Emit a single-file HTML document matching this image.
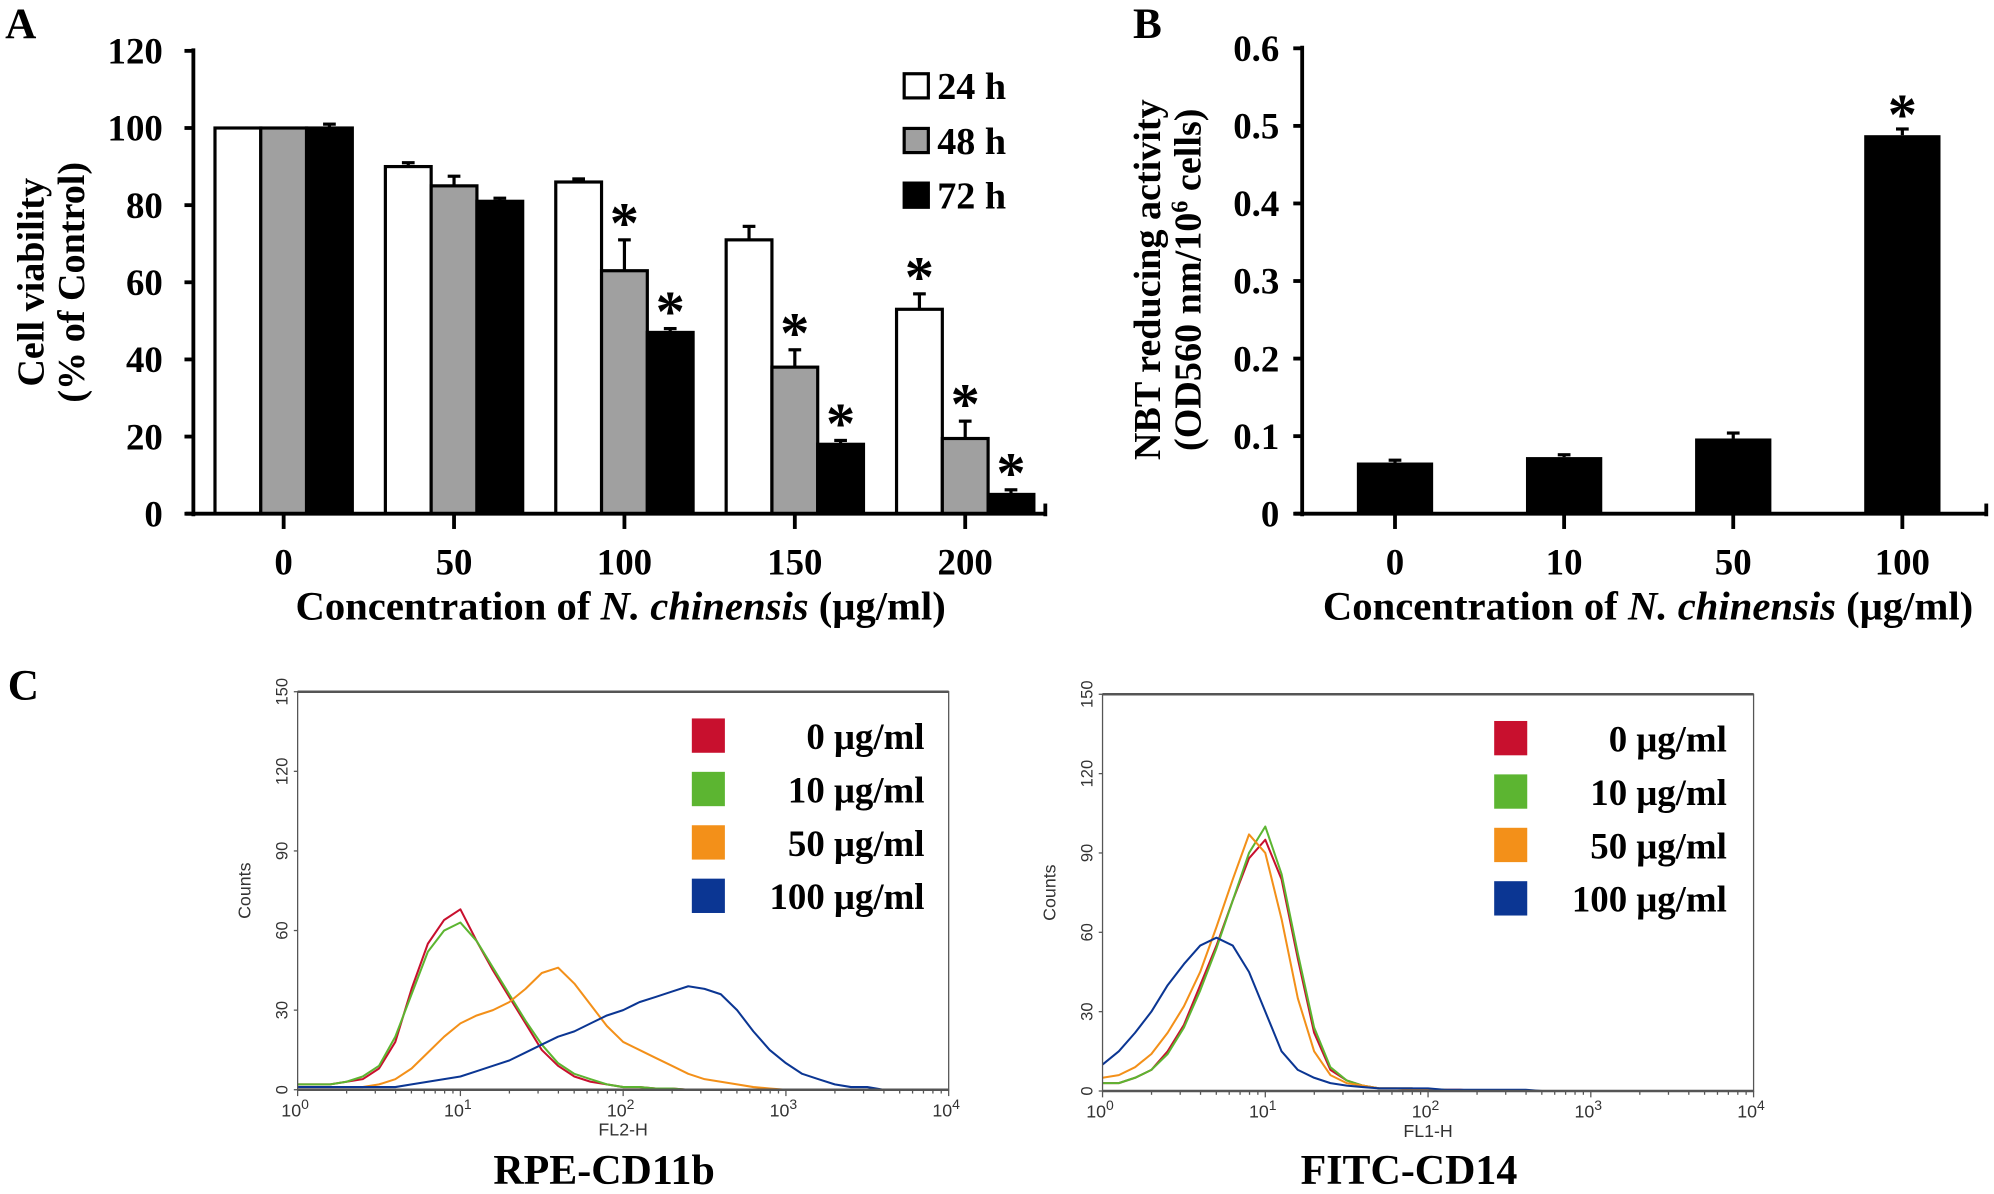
<!DOCTYPE html>
<html><head><meta charset="utf-8"><style>
html,body{margin:0;padding:0;background:#fff}
svg{display:block}
text{font-family:"Liberation Serif",serif;font-weight:bold;fill:#000}
.sm{font-family:"Liberation Sans",sans-serif;font-weight:normal;fill:#333}
</style></head><body>
<svg id="fig" xmlns="http://www.w3.org/2000/svg" width="1994" height="1194" viewBox="0 0 1568 939">
</svg>
<script>
// ---- Panel A data ----
const catsA = ["0","50","100","150","200"];
const v24 = [100, 90, 86, 71, 53];
const v48 = [100, 85, 63, 38, 19.5];
const v72 = [100, 81, 47, 18, 5];
const e24 = [0, 1, 0.8, 3.5, 4];
const e48 = [0, 2.5, 8, 4.5, 4.5];
const e72 = [1, 0.8, 1, 1, 1.2];
const s24 = [0,0,0,0,1];
const s48 = [0,0,1,1,1];
const s72 = [0,0,1,1,1];
const ticksA = [0,20,40,60,80,100,120];
// ---- Panel B data ----
const catsB = ["0","10","50","100"];
const valsB = [0.066, 0.073, 0.097, 0.488];
const errB = [0.003, 0.003, 0.007, 0.008];
const starB = [0,0,0,1];
const ticksB = [0,0.1,0.2,0.3,0.4,0.5,0.6];
// ---- Panel C data (counts at log10 = 0,0.1,...,4.0) ----
const cd11b_0 = [2,2,2,3,4,8,18,38,55,64,68,56,45,35,25,15,9,5,3,2,1,1,0.5,0.5,0,0,0,0,0,0,0,0,0,0,0,0,0,0,0,0,0];
const cd11b_10 = [2,2,2,3,5,9,20,36,52,60,63,56,46,36,26,17,10,6,4,2,1,1,0.5,0.5,0,0,0,0,0,0,0,0,0,0,0,0,0,0,0,0,0];
const cd11b_50 = [1,1,1,1,1,2,4,8,14,20,25,28,30,33,38,44,46,40,32,24,18,15,12,9,6,4,3,2,1,0.5,0,0,0,0,0,0,0,0,0,0,0];
const cd11b_100 = [1,1,1,1,1,1,1,2,3,4,5,7,9,11,14,17,20,22,25,28,30,33,35,37,39,38,36,30,22,15,10,6,4,2,1,1,0,0,0,0,0];
const cd14_0 = [3,3,5,8,15,25,40,55,72,88,95,80,50,22,8,4,2,1,1,1,0.5,0.5,0.5,0,0,0,0,0,0,0,0,0,0,0,0,0,0,0,0,0,0];
const cd14_10 = [3,3,5,8,14,24,38,54,72,90,100,82,52,24,9,4,2,1,1,1,0.5,0.5,0,0,0,0,0,0,0,0,0,0,0,0,0,0,0,0,0,0,0];
const cd14_50 = [5,6,9,14,22,32,45,62,80,97,90,65,35,15,6,3,2,1,1,0.5,0.5,0,0,0,0,0,0,0,0,0,0,0,0,0,0,0,0,0,0];
const cd14_100 = [10,15,22,30,40,48,55,58,55,45,30,15,8,5,3,2,1.5,1,1,1,1,0.5,0.5,0.5,0.5,0.5,0.5,0,0,0,0,0,0,0,0,0,0,0,0,0];
const legendC = ["0 μg/ml","10 μg/ml","50 μg/ml","100 μg/ml"];
const colorsC = ["#c8102e","#5cb531","#f39019","#0b3693"];
const ticksC = [0,30,60,90,120,150];

const svg = document.getElementById('fig');
const NS = "http://www.w3.org/2000/svg";
function mk(tag, attrs, parent){ const e=document.createElementNS(NS,tag); for(const k in attrs) e.setAttribute(k,attrs[k]); (parent||svg).appendChild(e); return e; }
function txt(s, attrs, parent){ const e=mk('text',attrs,parent); e.textContent=s; return e; }
function star(x,y,g){ const t=txt('*',{x:x,y:y,'text-anchor':'middle','font-size':46},g);   }

// ===== Panel A =====
const gA = mk('g',{});


const la = txt('A',{x:4,y:30,'font-size':34},gA);
 
const yA = v => 404 - v/120*364;
const xA = i => 223 + i*134;
ticksA.forEach(t=>{
  mk('line',{x1:145,x2:152,y1:yA(t),y2:yA(t),stroke:'#000','stroke-width':3},gA);
  const l=txt(String(t),{x:128,y:yA(t)+10,'text-anchor':'end','font-size':29},gA);
   
});
const series = [[v24,e24,s24,'#fff'],[v48,e48,s48,'#a0a0a0'],[v72,e72,s72,'#000']];
catsA.forEach((c,i)=>{
  series.forEach((s,j)=>{
    const bx = xA(i) - 54 + j*36, v=s[0][i], e=s[1][i];
    if(e>0) mk('line',{x1:bx+18,x2:bx+18,y1:yA(v),y2:yA(v+e),stroke:'#000','stroke-width':2.5},gA);
    if(e>0) mk('line',{x1:bx+13,x2:bx+23,y1:yA(v+e),y2:yA(v+e),stroke:'#000','stroke-width':2.5},gA);
    const r=mk('rect',{x:bx,y:yA(v),width:36,height:404-yA(v),fill:s[3],stroke:'#000','stroke-width':2.5},gA);
     
    if(s[2][i]) star(bx+18, yA(v+e)+2, gA);
  });
  mk('line',{x1:xA(i),x2:xA(i),y1:404,y2:416,stroke:'#000','stroke-width':3},gA);
  const l=txt(c,{x:xA(i),y:452,'text-anchor':'middle','font-size':29},gA);
   
});
mk('line',{x1:152,x2:152,y1:38,y2:406,stroke:'#000','stroke-width':3},gA);
mk('line',{x1:146,x2:822,y1:404,y2:404,stroke:'#000','stroke-width':3},gA);
mk('line',{x1:822,x2:822,y1:396,y2:406,stroke:'#000','stroke-width':3},gA);
const ytA=txt('',{transform:'translate(34,222) rotate(-90)','text-anchor':'middle','font-size':30},gA);
 
const t1=mk('tspan',{x:0,y:0},ytA); t1.textContent='Cell viability';
const t2=mk('tspan',{x:0,y:32},ytA); t2.textContent='(% of Control)';
const xtA=txt('',{x:488,y:487,'text-anchor':'middle','font-size':32},gA);
 
xtA.innerHTML='Concentration of <tspan font-style="italic">N. chinensis</tspan> (μg/ml)';
['24 h','48 h','72 h'].forEach((n,j)=>{
  const g=mk('g',{},gA);  
  mk('rect',{x:711,y:58+j*43,width:19,height:19,fill:series[j][3],stroke:'#000','stroke-width':2.5},g);
  txt(n,{x:737,y:78+j*43,'font-size':30},g);
});

// ===== Panel B =====
const gB = mk('g',{});


const lb=txt('B',{x:891,y:30,'font-size':34},gB);
 
const yB = v => 404 - v/0.6*366;
const xB = i => 1097 + i*133;
ticksB.forEach(t=>{
  mk('line',{x1:1017,x2:1024,y1:yB(t),y2:yB(t),stroke:'#000','stroke-width':3},gB);
  const l=txt(t===0?'0':t.toFixed(1),{x:1006,y:yB(t)+10,'text-anchor':'end','font-size':29},gB);
   
});
catsB.forEach((c,i)=>{
  const v=valsB[i], e=errB[i], bx=xB(i)-30;
  mk('line',{x1:xB(i),x2:xB(i),y1:yB(v),y2:yB(v+e),stroke:'#000','stroke-width':2.5},gB);
  mk('line',{x1:xB(i)-5,x2:xB(i)+5,y1:yB(v+e),y2:yB(v+e),stroke:'#000','stroke-width':2.5},gB);
  const r=mk('rect',{x:bx,y:yB(v),width:60,height:404-yB(v),fill:'#000'},gB);
   
  if(starB[i]) star(xB(i), yB(v+e)+4, gB);
  mk('line',{x1:xB(i),x2:xB(i),y1:404,y2:416,stroke:'#000','stroke-width':3},gB);
  const l=txt(c,{x:xB(i),y:452,'text-anchor':'middle','font-size':29},gB);
   
});
mk('line',{x1:1024,x2:1024,y1:36,y2:406,stroke:'#000','stroke-width':3},gB);
mk('line',{x1:1018,x2:1562,y1:404,y2:404,stroke:'#000','stroke-width':3},gB);
mk('line',{x1:1562,x2:1562,y1:396,y2:406,stroke:'#000','stroke-width':3},gB);
const ytB=txt('',{transform:'translate(912,220) rotate(-90)','text-anchor':'middle','font-size':30},gB);
 
ytB.innerHTML='<tspan x="0" y="0">NBT reducing activity</tspan><tspan x="0" y="32">(OD560 nm/10<tspan font-size="19" dy="-10">6</tspan><tspan dy="10"> cells)</tspan></tspan>';
const xtB=txt('',{x:1296,y:487,'text-anchor':'middle','font-size':32},gB);
 
xtB.innerHTML='Concentration of <tspan font-style="italic">N. chinensis</tspan> (μg/ml)';

// ===== Panel C =====
const lc=txt('C',{x:6,y:550,'font-size':34},svg);
 
function flow(x0,x1,y0,y1,curves,xlab,title,name,lx){
  const g=mk('g',{});  
  const X=d=>x0+(x1-x0)*d/4, Y=v=>y1-(y1-y0)*v/150;
  curves.forEach((cv,k)=>{
    let p=''; cv.forEach((v,i)=>{p+=(i?'L':'M')+X(i*0.1).toFixed(1)+','+Y(v).toFixed(1);});
    const pa=mk('path',{d:p,fill:'none',stroke:colorsC[k],'stroke-width':1.6,'stroke-linejoin':'round'},g);
     
  });
  mk('rect',{x:x0,y:y0,width:x1-x0,height:y1-y0,fill:'none',stroke:'#555','stroke-width':1},g);
  mk('line',{x1:x0,x2:x1,y1:y0,y2:y0,stroke:'#555','stroke-width':2},g);
  mk('line',{x1:x0,x2:x1,y1:y1,y2:y1,stroke:'#555','stroke-width':2},g);
  ticksC.forEach(t=>{
    mk('line',{x1:x0-3,x2:x0,y1:Y(t),y2:Y(t),stroke:'#555'},g);
    const l=txt(String(t),{transform:`translate(${x0-8},${Y(t)}) rotate(-90)`,'text-anchor':'middle','font-size':13,class:'sm'},g);
     
  });
  for(let d=0;d<=4;d++){
    mk('line',{x1:X(d),x2:X(d),y1:y1,y2:y1+5,stroke:'#555'},g);
    if(d<4) for(let m=2;m<10;m++){const xx=X(d+Math.log10(m)); mk('line',{x1:xx,x2:xx,y1:y1,y2:y1+3,stroke:'#555'},g);}
    const l=txt('',{x:X(d)-2,y:y1+21,'text-anchor':'middle','font-size':14,class:'sm'},g);
    l.innerHTML='10<tspan dy="-6" font-size="11">'+d+'</tspan>';
     
  }
  const cl=txt('Counts',{transform:`translate(${x0-37},${(y0+y1)/2}) rotate(-90)`,'text-anchor':'middle','font-size':14,class:'sm'},g);
   
  const xl=txt(xlab,{x:(x0+x1)/2,y:y1+36,'text-anchor':'middle','font-size':14,class:'sm'},g);
   
  const tt=txt(title,{x:(x0+x1)/2-15,y:931,'text-anchor':'middle','font-size':33},g);
   
  legendC.forEach((n,k)=>{
    const le=mk('g',{},g);  
    mk('rect',{x:lx,y:y0+21+k*42,width:26,height:27,fill:colorsC[k]},le);
    txt(n,{x:lx+183,y:y0+45+k*42,'text-anchor':'end','font-size':29},le);
  });
}
flow(234,746,544,857,[cd11b_0,cd11b_10,cd11b_50,cd11b_100],'FL2-H','RPE-CD11b','panel-c-cd11b-histogram',544);
flow(867,1379,546,858,[cd14_0,cd14_10,cd14_50,cd14_100],'FL1-H','FITC-CD14','panel-c-cd14-histogram',1175);
</script>
</body></html>
